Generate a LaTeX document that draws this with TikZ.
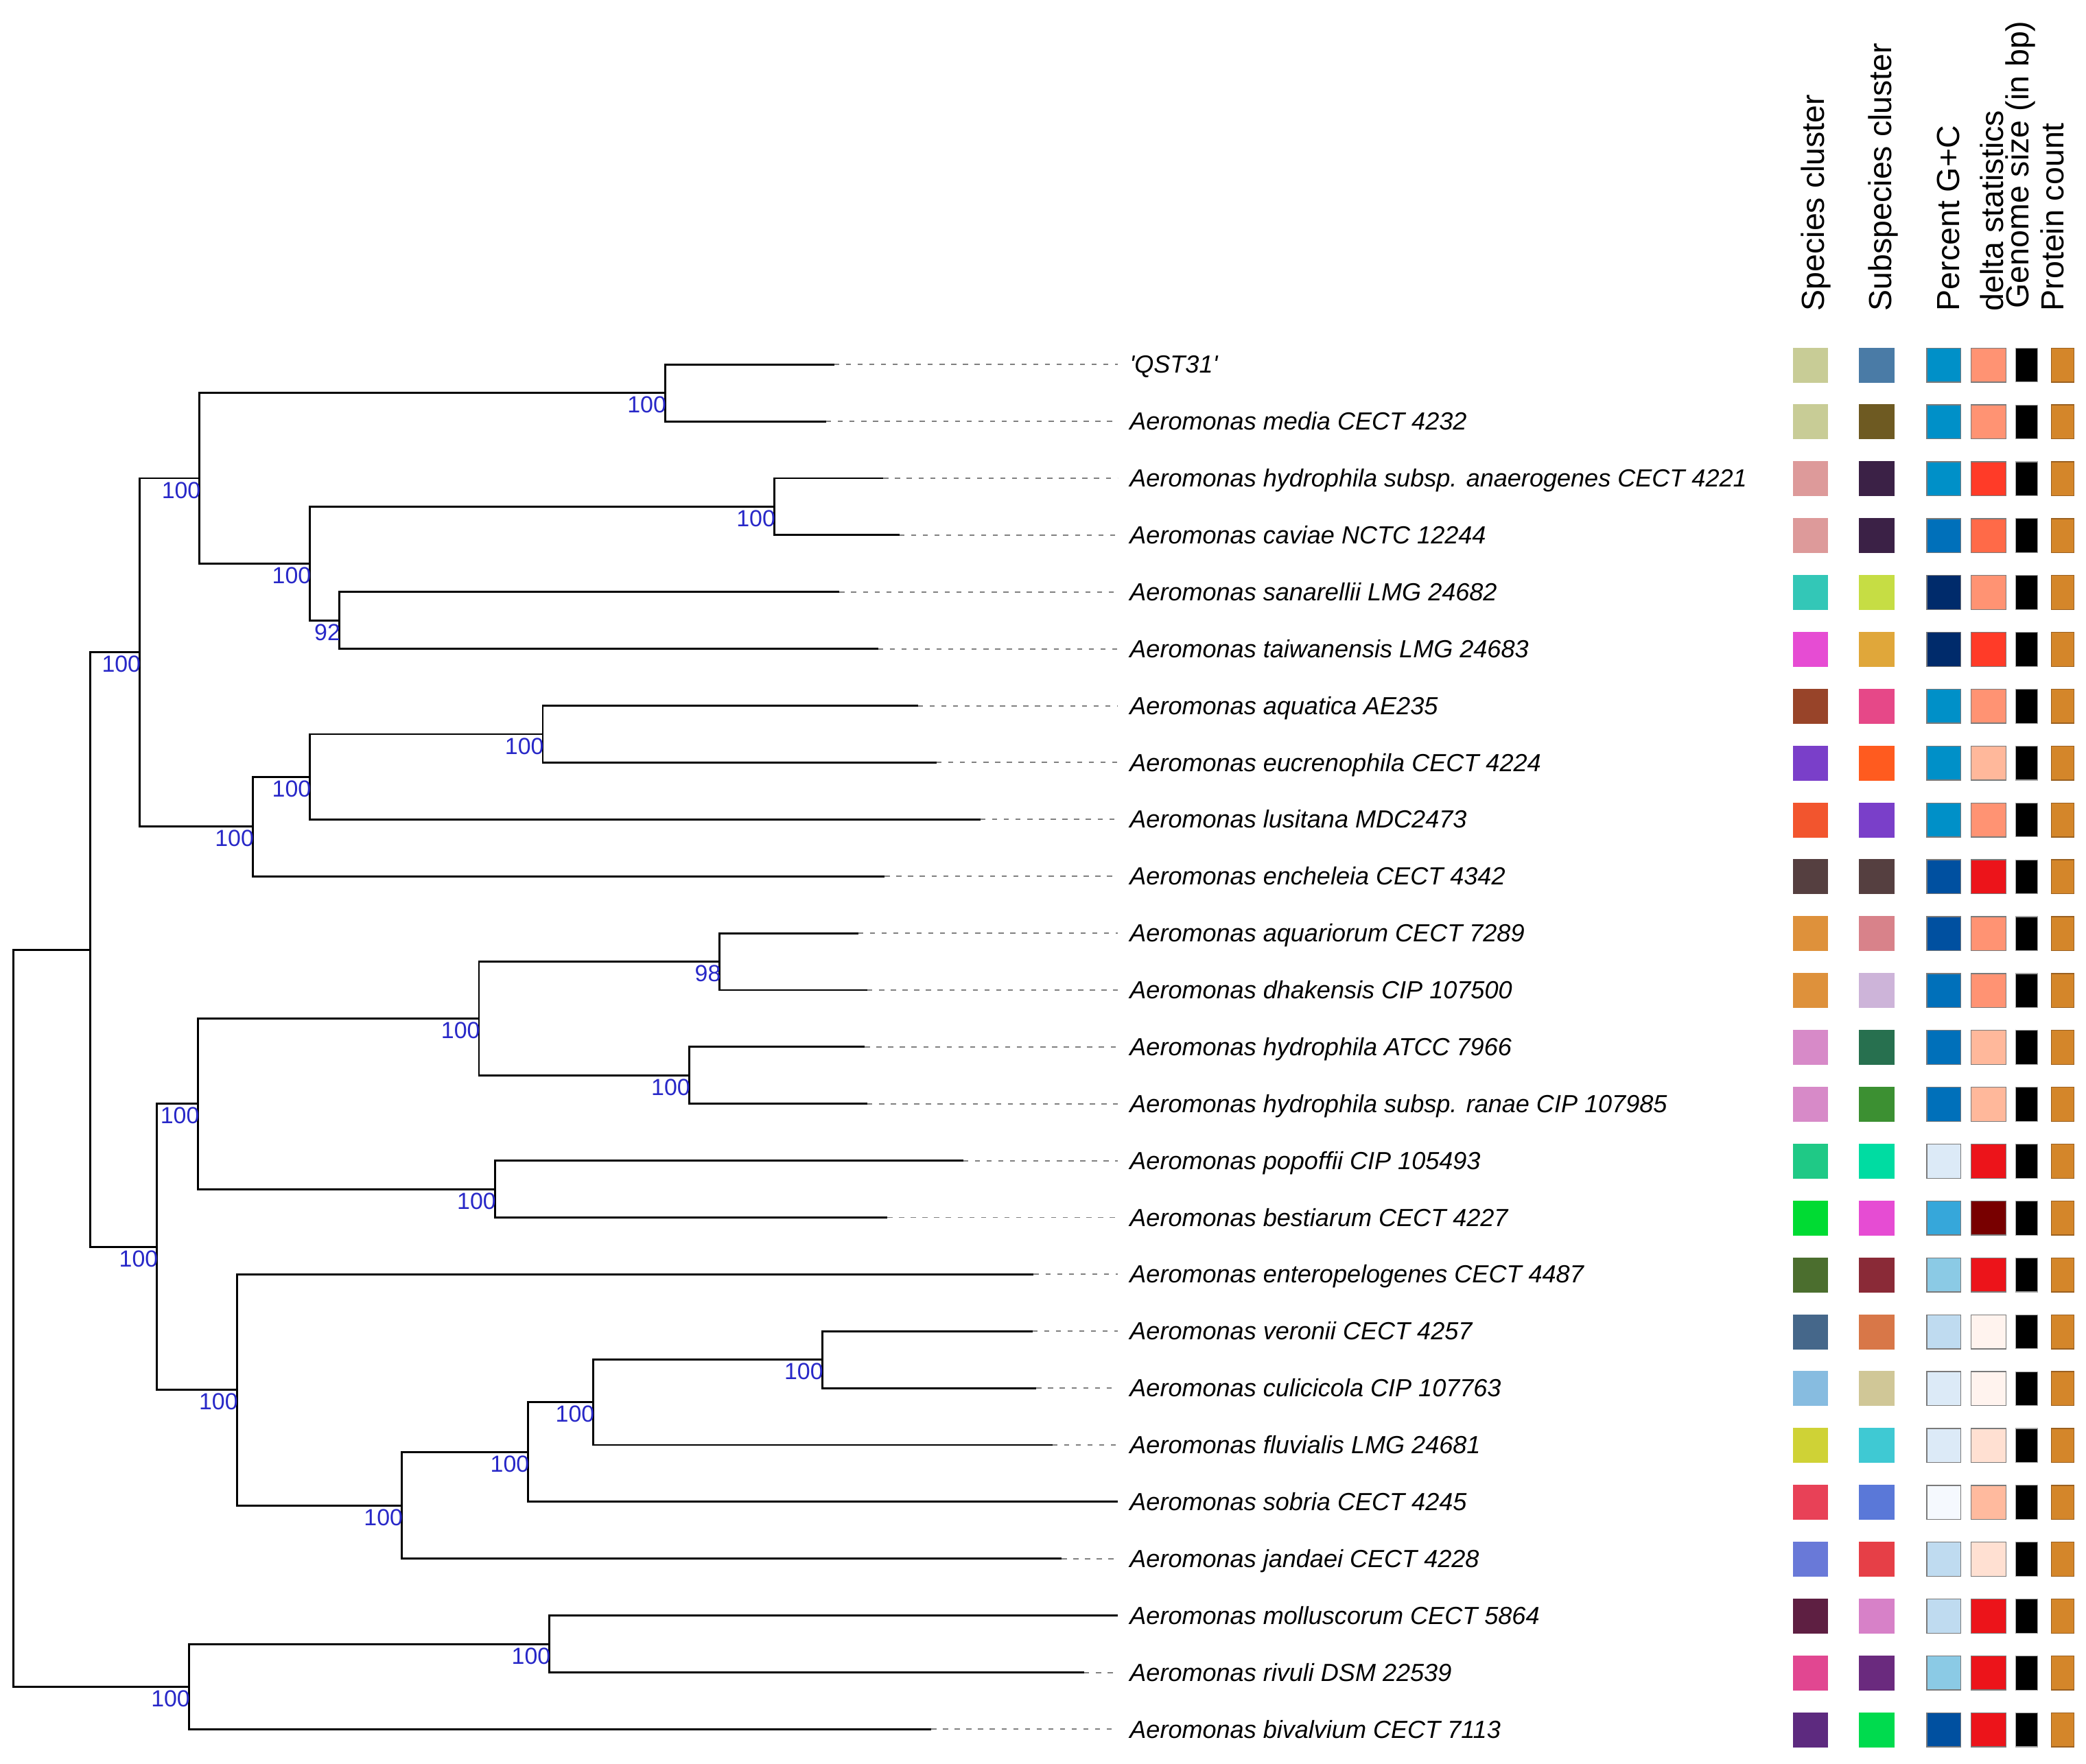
\documentclass[tikz,border=0pt]{standalone}
\usepackage{fontspec}
\setmainfont{Liberation Sans}
\usetikzlibrary{calc}
\definecolor{bootblue}{HTML}{2828C8}
\definecolor{boxedge}{HTML}{7A7A7A}
\definecolor{protein}{HTML}{D4862A}
\definecolor{proteinedge}{HTML}{9A6020}
\definecolor{dashgray}{HTML}{808080}
\begin{document}
\begin{tikzpicture}[x=1pt,y=-1pt,
  tree/.style={line width=1.5pt, black, line join=miter},
  leafdash/.style={draw=dashgray, line width=1pt, dash pattern=on 3.8pt off 5pt},
  taxon/.style={anchor=base west, inner sep=0pt, font=\fontsize{18.6}{22}\selectfont\itshape},
  boot/.style={anchor=base east, inner sep=0pt, text=bootblue, font=\fontsize{17.5}{20}\selectfont},
  head/.style={rotate=90, anchor=base west, inner sep=0pt, font=\fontsize{24}{28}\selectfont},
  cbox/.style={rectangle, inner sep=0pt, minimum height=26.3pt},
]
\fill[white] (0,0) rectangle (1568,1326);
\useasboundingbox (0,0) rectangle (1568,1326);

% headers
\node[head] (h1) at (1371,234) {Species cluster};
\node[head] (h2) at (1421.5,234) {Subspecies cluster};
\node[head] (h3) at (1473,234) {Percent G+C};
\node[head] (h4) at (1506,234) {delta statistics};
\node[head] (h5) at (1525,232) {Genome size (in bp)};
\node[head] (h6) at (1551,234) {Protein count};

% leaves
\foreach \i/\xe/\name in {
 1/627/\textquotesingle QST31\textquotesingle,
 2/621/Aeromonas media CECT 4232,
 3/664/Aeromonas hydrophila subsp. anaerogenes CECT 4221,
 4/676/Aeromonas caviae NCTC 12244,
 5/631/Aeromonas sanarellii LMG 24682,
 6/660/Aeromonas taiwanensis LMG 24683,
 7/690/Aeromonas aquatica AE235,
 8/704/Aeromonas eucrenophila CECT 4224,
 9/737/Aeromonas lusitana MDC2473,
 10/665/Aeromonas encheleia CECT 4342,
 11/645/Aeromonas aquariorum CECT 7289,
 12/652/Aeromonas dhakensis CIP 107500,
 13/650/Aeromonas hydrophila ATCC 7966,
 14/652/Aeromonas hydrophila subsp. ranae CIP 107985,
 15/724/Aeromonas popoffii CIP 105493,
 16/667/Aeromonas bestiarum CECT 4227,
 17/777/Aeromonas enteropelogenes CECT 4487,
 18/776/Aeromonas veronii CECT 4257,
 19/779/Aeromonas culicicola CIP 107763,
 20/791/Aeromonas fluvialis LMG 24681,
 21/840/Aeromonas sobria CECT 4245,
 22/798/Aeromonas jandaei CECT 4228,
 23/840/Aeromonas molluscorum CECT 5864,
 24/815/Aeromonas rivuli DSM 22539,
 25/700/Aeromonas bivalvium CECT 7113}{
  \pgfmathsetmacro\yy{274+42.75*(\i-1)}
  \coordinate (l\i) at (\xe,\yy);
  \coordinate (d\i) at (840,\yy);
  \node[taxon] (t\i) at (849,\yy+6.5) {\name};
  \draw[leafdash] (l\i) -- (d\i);
}

% internal nodes
\coordinate (ROOT) at (10,990.9);
\coordinate (A) at (68,713.9);
\coordinate (UPPER) at (105,490.4);
\coordinate (TOP) at (150,359.5);
\coordinate (QM) at (500,295.4);
\coordinate (ACST) at (233,423.6);
\coordinate (AC) at (582,380.9);
\coordinate (ST) at (255,466.4);
\coordinate (AELE) at (190,621.3);
\coordinate (AEL) at (233,583.9);
\coordinate (AE) at (408,551.9);
\coordinate (LOWER) at (118,937.3);
\coordinate (MID) at (149,829.8);
\coordinate (ADHR) at (360,765.6);
\coordinate (AD) at (541,722.9);
\coordinate (HR) at (518,808.4);
\coordinate (PB) at (372,893.9);
\coordinate (EV) at (178,1044.8);
\coordinate (VCFSJ) at (302,1131.7);
\coordinate (VCFS) at (397,1091.6);
\coordinate (VCF) at (446,1054.2);
\coordinate (VC) at (618,1022.1);
\coordinate (MRB) at (142,1267.9);
\coordinate (MR) at (413,1235.9);

% branches
\draw[tree] (ROOT) |- (A);   \draw[tree] (ROOT) |- (MRB);
\draw[tree] (A) |- (UPPER);  \draw[tree] (A) |- (LOWER);
\draw[tree] (UPPER) |- (TOP); \draw[tree] (UPPER) |- (AELE);
\draw[tree] (TOP) |- (QM);   \draw[tree] (TOP) |- (ACST);
\draw[tree] (QM) |- (l1);    \draw[tree] (QM) |- (l2);
\draw[tree] (ACST) |- (AC);  \draw[tree] (ACST) |- (ST);
\draw[tree] (AC) |- (l3);    \draw[tree] (AC) |- (l4);
\draw[tree] (ST) |- (l5);    \draw[tree] (ST) |- (l6);
\draw[tree] (AELE) |- (AEL); \draw[tree] (AELE) |- (l10);
\draw[tree] (AEL) |- (AE);   \draw[tree] (AEL) |- (l9);
\draw[tree] (AE) |- (l7);    \draw[tree] (AE) |- (l8);
\draw[tree] (LOWER) |- (MID); \draw[tree] (LOWER) |- (EV);
\draw[tree] (MID) |- (ADHR); \draw[tree] (MID) |- (PB);
\draw[tree] (ADHR) |- (AD);  \draw[tree] (ADHR) |- (HR);
\draw[tree] (AD) |- (l11);   \draw[tree] (AD) |- (l12);
\draw[tree] (HR) |- (l13);   \draw[tree] (HR) |- (l14);
\draw[tree] (PB) |- (l15);   \draw[tree] (PB) |- (l16);
\draw[tree] (EV) |- (l17);   \draw[tree] (EV) |- (VCFSJ);
\draw[tree] (VCFSJ) |- (VCFS); \draw[tree] (VCFSJ) |- (l22);
\draw[tree] (VCFS) |- (VCF); \draw[tree] (VCFS) |- (l21);
\draw[tree] (VCF) |- (VC);   \draw[tree] (VCF) |- (l20);
\draw[tree] (VC) |- (l18);   \draw[tree] (VC) |- (l19);
\draw[tree] (MRB) |- (MR);   \draw[tree] (MRB) |- (l25);
\draw[tree] (MR) |- (l23);   \draw[tree] (MR) |- (l24);

% bootstrap values
\foreach \n/\v in {QM/100,AC/100,ST/92,ACST/100,TOP/100,AE/100,AEL/100,AELE/100,UPPER/100,
  AD/98,HR/100,ADHR/100,PB/100,MID/100,VC/100,VCF/100,VCFS/100,VCFSJ/100,EV/100,LOWER/100,MR/100,MRB/100}{
  \node[boot] (b\n) at ($(\n)+(1,15)$) {\v};
}

% colour boxes
\foreach \i/\ca/\cb/\cc/\cd in {
 1/C8CC96/4A7BA6/0090C8/FF9373,
 2/C8CC96/6E5A22/0090C8/FF9373,
 3/DD9A9A/3B2146/0090C8/FF3B28,
 4/DD9A9A/3B2146/0070BA/FF6A48,
 5/33C7B7/C6DD44/002B6B/FF9373,
 6/E64CD3/E0A73A/002B6B/FF3B28,
 7/984429/E64888/0090C8/FF9373,
 8/7A3FC9/FF5B1F/0090C8/FFB89B,
 9/F2552E/7A3FC9/0090C8/FF9373,
 10/553F40/553F40/0050A0/EC141A,
 11/DE913B/D8828A/0050A0/FF9373,
 12/DE913B/CDB4D9/0070BA/FF9373,
 13/D78AC8/27704F/0070BA/FFB89B,
 14/D78AC8/3C9032/0070BA/FFB89B,
 15/1FC986/00DCA2/DCEAF7/EC141A,
 16/00DB33/E64CD3/36A7DA/780000,
 17/4B6E2E/8A2A37/8BCAE5/EC141A,
 18/45678A/D87748/BFDBF0/FFF3EE,
 19/87BCE0/D0C797/DCEAF7/FFF3EE,
 20/CFD236/3FC9D3/DCEAF7/FFE0D2,
 21/E84157/5A78D8/F5F9FE/FFBA9E,
 22/6979D8/E63F47/BFDBF0/FFE0D2,
 23/5E1F42/D781C8/BFDBF0/EC141A,
 24/E14791/6A2A7E/8BCAE5/EC141A,
 25/5D2A7F/00DB4E/0050A0/EC141A}{
  \pgfmathsetmacro\yy{274.4+42.75*(\i-1)}
  \definecolor{tmpa}{HTML}{\ca}
  \definecolor{tmpb}{HTML}{\cb}
  \definecolor{tmpc}{HTML}{\cc}
  \definecolor{tmpd}{HTML}{\cd}
  \node[cbox, minimum width=26.5pt, fill=tmpa] (sc\i) at (1360.75,\yy) {};
  \node[cbox, minimum width=27pt, fill=tmpb] (ss\i) at (1410.5,\yy) {};
  \node[cbox, minimum width=25.5pt, minimum height=25.6pt, fill=tmpc, draw=boxedge, line width=0.7pt] (gc\i) at (1461,\yy) {};
  \node[cbox, minimum width=26pt, minimum height=25.6pt, fill=tmpd, draw=boxedge, line width=0.7pt] (ds\i) at (1494.75,\yy) {};
  \node[cbox, minimum width=16.5pt, minimum height=25.6pt, fill=black, draw=gray!70, line width=0.6pt] (gs\i) at (1523.5,\yy) {};
  \node[cbox, minimum width=17pt, minimum height=25.6pt, fill=protein, draw=proteinedge, line width=0.7pt] (pc\i) at (1550.5,\yy) {};
}
\end{tikzpicture}
\end{document}
